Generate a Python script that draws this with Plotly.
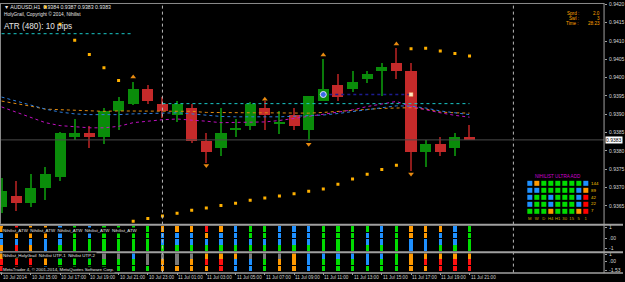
import plotly.graph_objects as go

# ---------------- data ----------------
bars = list(range(33))  # 10 Jul 13:00 ... 11 Jul 21:00 (H1)
opens  = [0.93647, 0.93677, 0.93657, 0.93699, 0.93728, 0.93838, 0.93848, 0.93838, 0.93908, 0.93927,
          0.93969, 0.93928, 0.93899, 0.93918, 0.93827, 0.93807, 0.93857, 0.93867, 0.93918, 0.93876,
          0.93899, 0.93857, 0.93937, 0.93980, 0.93968, 0.93997, 0.94017, 0.94040, 0.94018, 0.93798,
          0.93818, 0.93807, 0.93838]
highs  = [0.93727, 0.93719, 0.93737, 0.93757, 0.93851, 0.93888, 0.93867, 0.93918, 0.93948, 0.93988,
          0.93980, 0.93948, 0.93935, 0.93927, 0.93849, 0.93918, 0.93888, 0.93933, 0.93935, 0.93908,
          0.93918, 0.93950, 0.94051, 0.94009, 0.94018, 0.94018, 0.94040, 0.94080, 0.94040, 0.93829,
          0.93838, 0.93848, 0.93870]
lows   = [0.93630, 0.93637, 0.93647, 0.93665, 0.93717, 0.93829, 0.93809, 0.93818, 0.93858, 0.93924,
          0.93929, 0.93890, 0.93879, 0.93822, 0.93766, 0.93787, 0.93838, 0.93857, 0.93857, 0.93847,
          0.93857, 0.93827, 0.93936, 0.93936, 0.93960, 0.93984, 0.93950, 0.93997, 0.93746, 0.93757,
          0.93787, 0.93787, 0.93829]
closes = [0.93690, 0.93657, 0.93698, 0.93738, 0.93848, 0.93848, 0.93838, 0.93908, 0.93937, 0.93969,
          0.93937, 0.93908, 0.93928, 0.93827, 0.93798, 0.93848, 0.93859, 0.93928, 0.93899, 0.93879,
          0.93867, 0.93950, 0.93969, 0.93948, 0.93988, 0.94009, 0.94029, 0.94018, 0.93798, 0.93818,
          0.93798, 0.93838, 0.93829]

ma_orange = [0.93936, 0.93930, 0.93922, 0.93914, 0.93912, 0.93910, 0.93908, 0.93908, 0.93909, 0.93909,
             0.93910, 0.93910, 0.93910, 0.93908, 0.93905, 0.93904, 0.93904, 0.93904, 0.93904, 0.93903,
             0.93903, 0.93903, 0.93905, 0.93908, 0.93910, 0.93912, 0.93916, 0.93917, 0.93918, 0.93914,
             0.93906, 0.93904, 0.93903]
ma_blue = [0.93947, 0.93936, 0.93925, 0.93914, 0.93906, 0.93901, 0.93899, 0.93898, 0.93899, 0.93901,
           0.93902, 0.93904, 0.93904, 0.93901, 0.93897, 0.93894, 0.93893, 0.93892, 0.93893, 0.93893,
           0.93894, 0.93896, 0.93898, 0.93902, 0.93907, 0.93912, 0.93918, 0.93923, 0.93922, 0.93917,
           0.93909, 0.93904, 0.93899]
ma_magenta = [0.93920, 0.93905, 0.93890, 0.93877, 0.93869, 0.93866, 0.93863, 0.93863, 0.93867, 0.93877,
              0.93882, 0.93885, 0.93887, 0.93885, 0.93881, 0.93877, 0.93877, 0.93878, 0.93879, 0.93883,
              0.93888, 0.93893, 0.93900, 0.93906, 0.93912, 0.93921, 0.93928, 0.93935, 0.93921, 0.93912,
              0.93904, 0.93897, 0.93892]

sar = [None, None, None, 0.94193, 0.94146, 0.94102, 0.94063, 0.94027, 0.93992, 0.93608,
       0.93615, 0.93622, 0.93630, 0.93638, 0.93644, 0.93651, 0.93657, 0.93665, 0.93671, 0.93677,
       0.93683, 0.93690, 0.93696, 0.93709, 0.93723, 0.93736, 0.93749, 0.93761, 0.94079, 0.94080,
       0.94073, 0.94066, 0.94059]

frac_up_bars = [9, 18, 22, 27]
frac_up_vals = [0.94002, 0.93941, 0.94062, 0.94092]
frac_dn_bars = [14, 21, 28]
frac_dn_vals = [0.93760, 0.93818, 0.93737]

level_prev_bars = [0, 9]
level_prev = 0.94120
level_cur_bars = [11, 32]
level_cur = 0.93929
pending_bars = [22, 28]
pending_level = 0.93954
bid = 0.93830
day_breaks = [11, 35]

time_tick_bars = list(range(0, 33, 2))
time_tick_text = ["10 Jul 2014", "10 Jul 15:00", "10 Jul 17:00", "10 Jul 19:00", "10 Jul 21:00",
                  "10 Jul 23:00", "11 Jul 01:00", "11 Jul 03:00", "11 Jul 05:00", "11 Jul 07:00",
                  "11 Jul 09:00", "11 Jul 11:00", "11 Jul 13:00", "11 Jul 15:00", "11 Jul 17:00",
                  "11 Jul 19:00", "11 Jul 21:00"]
price_ticks = [0.9365, 0.9370, 0.9375, 0.9380, 0.9385, 0.9390, 0.9395, 0.9400, 0.9405, 0.9410, 0.9415, 0.9420]

# indicator states per bar (top -> bottom)
atw_states = ["OBBO", "ROBR", "OOBO", "OOBB", "BBBG", "GGGG", "BBGG", "GGGG", "GGGG", "GGGG",
              "GGGG", "OBBG", "OBBG", "OBBG", "ROBG", "OBBG", "BBBG", "GGBG", "GGBG", "BBBG",
              "BBBG", "BBBG", "GGGG", "GGGG", "GGGG", "GBBG", "BBBG", "GGGG", "OOBB", "OOBB",
              "OBBG", "BBBG", "GGGG"]
hg_states = ["ORR", "ORR", "ORR", "OOB", "BGG", "GGG", "BGG", "YGG", "YGG", "BGG",
             "YYG", "YOO", "YYO", "YOO", "ORO", "ORR", "OBB", "YBB", "YGG", "YOO",
             "OOO", "BBB", "BGG", "BGG", "BGG", "BBG", "BGG", "GGG", "OOO", "ORO",
             "ORR", "ORR", "ORR"]

grid_tf = ["M", "W", "D", "H4", "H1", "30", "15", "5", "1"]
grid_periods = ["144", "89", "42", "22", "7"]
grid_states = ["BOGGGGGGB",
               "BBGGGGGBO",
               "BGGBGGGBR",
               "BGGBGGGBR",
               "GGGOGGGOR"]

# ---------------- style ----------------
W, H = 625, 282
FONT = "Liberation Sans"
state_color = {"G": "#00DC00", "B": "#1E90FF", "O": "#FF9900", "R": "#FF1010", "Y": "#7A7A7A"}
state_z = {"G": 0, "B": 1, "O": 2, "R": 3}
UP_BODY, UP_WICK = "#0A8C0A", "#0A7A0A"
DN_BODY, DN_WICK = "#C42A2A", "#8E1B1B"

def px(x):
    return x / W

def py(y):
    return 1 - y / H

XDOM = 606 / W
fig = go.Figure()

# candles
up = [c >= o for o, c in zip(opens, closes)]
fig.add_trace(go.Bar(x=bars, base=lows, y=[h - l for h, l in zip(highs, lows)], width=0.075,
                     marker=dict(color=[UP_WICK if u else DN_WICK for u in up], line=dict(width=0)),
                     yaxis="y", hoverinfo="skip"))
fig.add_trace(go.Bar(x=bars, base=[min(o, c) for o, c in zip(opens, closes)],
                     y=[max(abs(c - o), 0.00003) for o, c in zip(opens, closes)], width=0.76,
                     marker=dict(color=[UP_BODY if u else DN_BODY for u in up], line=dict(width=0)),
                     yaxis="y", hoverinfo="skip"))

# moving averages
for vals, col in [(ma_orange, "#E08A10"), (ma_blue, "#2C7FE0"), (ma_magenta, "#C010C0")]:
    fig.add_trace(go.Scatter(x=bars, y=vals, mode="lines", line=dict(color=col, width=1, dash="dot"),
                             yaxis="y", hoverinfo="skip"))

# levels
fig.add_trace(go.Scatter(x=level_prev_bars, y=[level_prev] * 2, mode="lines",
                         line=dict(color="#19C8C8", width=1, dash="dot"), yaxis="y"))
fig.add_trace(go.Scatter(x=level_cur_bars, y=[level_cur] * 2, mode="lines",
                         line=dict(color="#19C8C8", width=1, dash="dot"), yaxis="y"))
fig.add_trace(go.Scatter(x=pending_bars, y=[pending_level] * 2, mode="lines",
                         line=dict(color="#1C1C90", width=1.5, dash="dot"), yaxis="y"))
fig.add_trace(go.Scatter(x=pending_bars[:1], y=[pending_level], mode="markers",
                         marker=dict(symbol="circle", size=6, color="#3A6AE8", line=dict(color="#E0E0FF", width=1)),
                         yaxis="y"))
fig.add_trace(go.Scatter(x=pending_bars[1:], y=[pending_level], mode="markers",
                         marker=dict(symbol="square", size=4, color="#FFE6C0", line=dict(color="#E08040", width=0.5)),
                         yaxis="y"))

# parabolic SAR
fig.add_trace(go.Scatter(x=bars, y=sar, mode="markers",
                         marker=dict(symbol="square", size=3, color="#FFB000", line=dict(width=0)), yaxis="y"))
# fractals
fig.add_trace(go.Scatter(x=frac_up_bars, y=frac_up_vals, mode="markers",
                         marker=dict(symbol="triangle-up", size=5, color="#E88A10"), yaxis="y"))
fig.add_trace(go.Scatter(x=frac_dn_bars, y=frac_dn_vals, mode="markers",
                         marker=dict(symbol="triangle-down", size=5, color="#E88A10"), yaxis="y"))

# sub panel 1 (4 rows), sub panel 2 (3 rows)
for r in range(4):
    fig.add_trace(go.Bar(x=bars, base=[3 - r + 0.04] * len(bars), y=[0.92] * len(bars), width=0.22,
                         marker=dict(color=[state_color[s[r]] for s in atw_states], line=dict(width=0)),
                         yaxis="y2", hoverinfo="skip"))
for r in range(3):
    fig.add_trace(go.Bar(x=bars, base=[2 - r + 0.04] * len(bars), y=[0.92] * len(bars), width=0.22,
                         marker=dict(color=[state_color[s[r]] for s in hg_states], line=dict(width=0)),
                         yaxis="y3", hoverinfo="skip"))

# ultra add grid
fig.add_trace(go.Heatmap(x=grid_tf, y=grid_periods,
                         z=[[state_z[c] for c in row] for row in grid_states],
                         zmin=-0.5, zmax=3.5, showscale=False, xgap=2, ygap=2,
                         colorscale=[[0, "#00DC00"], [0.25, "#00DC00"], [0.25, "#1E90FF"], [0.5, "#1E90FF"],
                                     [0.5, "#FF9900"], [0.75, "#FF9900"], [0.75, "#FF0000"], [1, "#FF0000"]],
                         xaxis="x4", yaxis="y4", hoverinfo="skip"))

shapes = []
# day separators
for d in day_breaks:
    shapes.append(dict(type="line", xref="x", yref="paper", x0=d, x1=d, y0=py(273.5), y1=1,
                       line=dict(color="#B8B8B8", width=1, dash="dot")))
# bid line
shapes.append(dict(type="line", xref="paper", yref="y", x0=0, x1=XDOM, y0=bid, y1=bid,
                   line=dict(color="#4A4A4A", width=1)))
# panel separators and borders
for yy in [225, 252.8]:
    shapes.append(dict(type="line", xref="paper", yref="paper", x0=0, x1=1, y0=py(yy), y1=py(yy),
                       line=dict(color="#A0A0A0", width=2)))
shapes.append(dict(type="line", xref="paper", yref="paper", x0=0, x1=1, y0=py(273.8), y1=py(273.8),
                   line=dict(color="#A0A0A0", width=1.5)))
shapes.append(dict(type="line", xref="paper", yref="paper", x0=XDOM, x1=XDOM, y0=py(274), y1=1,
                   line=dict(color="#A0A0A0", width=1)))
shapes.append(dict(type="line", xref="paper", yref="paper", x0=0, x1=XDOM, y0=py(0.5), y1=py(0.5),
                   line=dict(color="#8A8A8A", width=1)))
shapes.append(dict(type="line", xref="paper", yref="paper", x0=px(0.5), x1=px(0.5), y0=py(224), y1=1,
                   line=dict(color="#8A8A8A", width=1)))

ann = []
def text(x, y, s, size, color="#E6E6E6", anchor="left", bg=None, xref="paper", yref="paper"):
    d = dict(x=x, y=y, xref=xref, yref=yref, text=s, showarrow=False, xanchor=anchor, yanchor="middle",
             font=dict(family=FONT, size=size, color=color), borderpad=0)
    if bg:
        d["bgcolor"] = bg
    ann.append(d)

text(px(3), py(4.5), "▼ AUDUSD,H1  0.9384 0.9387 0.9383 0.9383", 5.2)
text(px(3), py(10.8), "HolyGrail, Copyright © 2014, Nihilist", 4.8)
text(px(3), py(24), "ATR (480): 10 pips", 8.2)
for lab, val, yy in [("Sprd :", "2.0", 11), ("Swl :", "3", 15.8), ("Time :", "28:23", 20.7)]:
    text(px(582), py(yy), lab, 4.6, "#FFA500", "right")
    text(px(603), py(yy), val, 4.6, "#FFA500", "right")
text(px(560), py(176), "NIHILIST ULTRA ADD", 4.6, "#D000D0", "center")
text(px(2), py(231), "Nihilist_ATW  Nihilist_ATW  Nihilist_ATW  Nihilist_ATW  Nihilist_ATW", 4.4,
     "#E6E6E6", "left", bg="#000000")
text(px(2), py(255.8), "Nihilist_HolyGrail  Nihilist UTP-1  Nihilist UTP-2", 4.4, "#E6E6E6", "left", bg="#000000")
text(px(2), py(270.2), "MetaTrader 4, © 2001-2014, MetaQuotes Software Corp.", 4.4, "#E6E6E6", "left", bg="#000000")
# current price box
text(px(607), bid, "0.9383", 5, "#000000", "left", bg="#FFFFFF", yref="y")
# time labels
for b, t in zip(time_tick_bars, time_tick_text):
    text(b, py(278.3), t, 4.6, "#D0D0D0", "left", xref="x")

axis_font = dict(family=FONT, size=5, color="#D8D8D8")
fig.update_layout(
    width=W, height=H, margin=dict(l=0, r=0, t=0, b=0), autosize=False,
    paper_bgcolor="#000000", plot_bgcolor="#000000", showlegend=False, barmode="overlay",
    bargap=0,
    xaxis=dict(domain=[0, XDOM], range=[-0.109, 41.2], anchor="y3", showgrid=False, zeroline=False,
               showticklabels=False, ticks="outside", ticklen=2, tickcolor="#A0A0A0",
               tickvals=time_tick_bars, showline=False, fixedrange=True),
    yaxis=dict(domain=[py(224), 1], range=[0.936008, 0.942038], side="right", anchor="x",
               showgrid=False, zeroline=False, tickvals=price_ticks,
               ticktext=["%.4f" % p for p in price_ticks], ticks="outside", ticklen=2,
               tickcolor="#A0A0A0", tickfont=axis_font, ticklabelstandoff=1),
    yaxis2=dict(domain=[py(251.6), py(226)], range=[0, 4], side="right", anchor="x",
                showgrid=False, zeroline=False, tickvals=[3.7, 2, 0.4], ticktext=["1", ".00", "-1"],
                ticks="outside", ticklen=2, tickcolor="#A0A0A0", tickfont=axis_font, ticklabelstandoff=1),
    yaxis3=dict(domain=[py(273), py(254)], range=[0, 3], side="right", anchor="x",
                showgrid=False, zeroline=False, tickvals=[2.9, 1.7, 0.3], ticktext=["1", ".00", "-1.53"],
                ticks="outside", ticklen=2, tickcolor="#A0A0A0", tickfont=axis_font, ticklabelstandoff=1),
    xaxis4=dict(domain=[px(528), px(591)], anchor="y4", type="category", showgrid=False, zeroline=False,
                tickfont=dict(family=FONT, size=4.2, color="#D0A800"), ticks="", tickangle=0,
                ticklabelstandoff=1),
    yaxis4=dict(domain=[py(214.3), py(179.3)], anchor="x4", type="category", side="right",
                autorange="reversed", showgrid=False, zeroline=False,
                tickfont=dict(family=FONT, size=4.4, color="#FFC800"), ticks="", ticklabelstandoff=1),
    shapes=shapes, annotations=ann,
)

fig.write_html("out.html")
